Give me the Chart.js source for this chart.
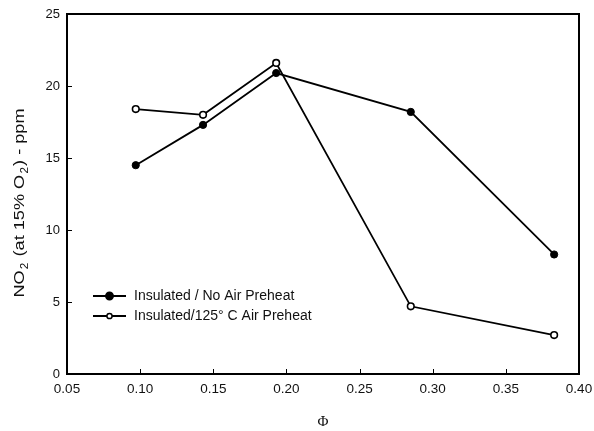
<!DOCTYPE html>
<html>
<head>
<meta charset="utf-8">
<script src="https://cdn.jsdelivr.net/npm/chart.js@4"></script>
<style>
  html, body { margin: 0; padding: 0; background: #fff; }
  #wrap { width: 594px; height: 431px; }
</style>
</head>
<body>
<div id="wrap"><canvas id="no2_grafik" width="594" height="431"></canvas></div>
<script>
// values
const phiNoPreheat = [0.097, 0.143, 0.193, 0.285, 0.383];
const no2NoPreheat = [14.5, 17.3, 20.9, 18.2, 8.3];
const phiPreheat = [0.097, 0.143, 0.193, 0.285, 0.383];
const no2Preheat = [18.4, 18.0, 21.6, 4.7, 2.7];
const seriesLabels = ['Insulated / No Air Preheat', 'Insulated/125\u00B0 C Air Preheat'];
const xTicks = [0.05, 0.10, 0.15, 0.20, 0.25, 0.30, 0.35, 0.40];
const yTicks = [0, 5, 10, 15, 20, 25];
// y title pieces: [text, subscript?]
const yTitleParts = [['NO', false], ['2', true], [' (at 15% O', false], ['2', true], [') - ppm', false]];

const toPoints = (xs, ys) => xs.map((x, i) => ({ x: x, y: ys[i] }));

// frame, inward ticks, y title with subscripts and the legend inside the plot
const cercevePlugin = {
  id: 'cerceve',
  afterDraw(chart) {
    const ctx = chart.ctx;
    const a = chart.chartArea;
    const xs = chart.scales.x, ys = chart.scales.y;
    ctx.save();
    ctx.strokeStyle = '#000';
    ctx.lineWidth = 1;
    xTicks.forEach(t => {
      const px = Math.round(xs.getPixelForValue(t)) + 0.5;
      ctx.beginPath(); ctx.moveTo(px, a.bottom); ctx.lineTo(px, a.bottom - 5); ctx.stroke();
    });
    yTicks.forEach(t => {
      const py = Math.round(ys.getPixelForValue(t)) + 0.5;
      ctx.beginPath(); ctx.moveTo(a.left, py); ctx.lineTo(a.left + 5, py); ctx.stroke();
    });
    ctx.lineWidth = 2;
    ctx.strokeRect(a.left, a.top, a.right - a.left, a.bottom - a.top);

    // y axis title
    ctx.save();
    ctx.translate(24, (a.top + a.bottom) / 2 + 9);
    ctx.rotate(-Math.PI / 2);
    ctx.scale(1.17, 1);
    ctx.fillStyle = '#111';
    ctx.textBaseline = 'alphabetic';
    let total = 0;
    yTitleParts.forEach(p => {
      ctx.font = (p[1] ? '10px' : '15.5px') + ' "Liberation Sans", Arial, sans-serif';
      total += ctx.measureText(p[0]).width + (p[1] ? 2 : 0);
    });
    let cx = -total / 2;
    yTitleParts.forEach(p => {
      ctx.font = (p[1] ? '10px' : '15.5px') + ' "Liberation Sans", Arial, sans-serif';
      const w = ctx.measureText(p[0]).width;
      ctx.fillText(p[0], cx + (p[1] ? 1 : 0), p[1] ? 4 : 0);
      cx += w + (p[1] ? 2 : 0);
    });
    ctx.restore();

    // legend
    chart.data.datasets.forEach((ds, i) => {
      const y = a.bottom - 78 + i * 20;
      const x0 = a.left + 26;
      ctx.lineWidth = 2;
      ctx.strokeStyle = '#000';
      ctx.beginPath(); ctx.moveTo(x0, y); ctx.lineTo(x0 + 33, y); ctx.stroke();
      ctx.beginPath();
      ctx.arc(x0 + 16.5, y, i === 0 ? 3.7 : 2.6, 0, Math.PI * 2);
      ctx.fillStyle = ds.pointBackgroundColor;
      ctx.fill();
      ctx.lineWidth = 1.5;
      ctx.stroke();
      ctx.fillStyle = '#111';
      ctx.font = '14px "Liberation Sans", Arial, sans-serif';
      ctx.textBaseline = 'middle';
      ctx.fillText(ds.label, x0 + 41, y + 0.5);
    });
    ctx.restore();
  }
};

const ctxNo2 = document.getElementById('no2_grafik');
new Chart(ctxNo2, {
  type: 'line',
  data: {
    datasets: [{
      label: seriesLabels[0],
      data: toPoints(phiNoPreheat, no2NoPreheat),
      borderColor: '#000',
      borderWidth: 1.8,
      pointRadius: 3.6,
      pointBackgroundColor: '#000',
      pointBorderColor: '#000',
      pointBorderWidth: 1,
      fill: false
    }, {
      label: seriesLabels[1],
      data: toPoints(phiPreheat, no2Preheat),
      borderColor: '#000',
      borderWidth: 1.8,
      pointRadius: 3.3,
      pointBackgroundColor: '#fff',
      pointBorderColor: '#000',
      pointBorderWidth: 1.6,
      fill: false
    }]
  },
  options: {
    responsive: false,
    animation: false,
    layout: { padding: { top: 14, right: 15, left: 0, bottom: 0 } },
    plugins: {
      legend: { display: false },
      tooltip: { enabled: false }
    },
    scales: {
      x: {
        type: 'linear',
        min: 0.05,
        max: 0.40,
        afterBuildTicks: (scale) => { scale.ticks = xTicks.map(v => ({ value: v })); },
        afterFit: (scale) => { scale.height = 57; scale.paddingLeft = 0; scale.paddingRight = 0; },
        grid: { display: false, drawTicks: false },
        border: { display: false },
        ticks: {
          padding: 7,
          color: '#111',
          font: { family: '"Liberation Sans", Arial', size: 13.5 },
          callback: (v) => v.toFixed(2)
        },
        title: {
          display: true,
          text: '\u03A6',
          color: '#111',
          padding: { top: 0, bottom: 0 },
          font: { family: '"Liberation Serif", "Times New Roman", serif', size: 15 }
        }
      },
      y: {
        type: 'linear',
        min: 0,
        max: 25,
        afterBuildTicks: (scale) => { scale.ticks = yTicks.map(v => ({ value: v })); },
        afterFit: (scale) => { scale.width = 67; scale.paddingTop = 0; scale.paddingBottom = 0; },
        grid: { display: false, drawTicks: false },
        border: { display: false },
        ticks: {
          padding: 7,
          color: '#111',
          font: { family: '"Liberation Sans", Arial', size: 13 }
        },
        title: { display: false }
      }
    }
  },
  plugins: [cercevePlugin]
});
</script>
</body>
</html>
